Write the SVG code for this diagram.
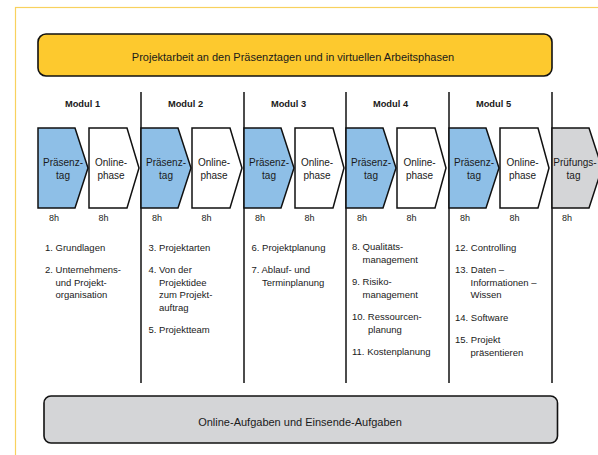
<svg xmlns="http://www.w3.org/2000/svg" width="598" height="455" viewBox="0 0 598 455">
<style>
text{font-family:"Liberation Sans",Arial,sans-serif;fill:#1a1a1a}
.frame{fill:none;stroke:#F8D15E;stroke-width:1.2}
.bar{stroke:#111;stroke-width:1.6}
.sep{stroke:#111;stroke-width:1.5}
.chev{stroke:#111;stroke-width:1.5;stroke-linejoin:miter}
.p{fill:#8EBFE7}
.o{fill:#fff}
.g{fill:#D4D5D7}
.mod{font-size:9.3px;font-weight:bold;text-anchor:middle}
.ct{font-size:10px;text-anchor:middle}
.h{font-size:9px}
.li{font-size:9.5px}
.bt{font-size:11px;text-anchor:middle}
</style>
<rect class="frame" x="15.5" y="7.5" width="700" height="600"/>
<g id="top-bar">
<rect class="bar" x="38" y="34" width="514" height="42" rx="8" fill="#FDC92E"/>
<text class="bt" x="293" y="61">Projektarbeit an den Präsenztagen und in virtuellen Arbeitsphasen</text>
</g>
<g id="connectors">
<line class="sep" x1="141" y1="92" x2="141" y2="383"/>
<line class="sep" x1="244" y1="92" x2="244" y2="383"/>
<line class="sep" x1="346" y1="92" x2="346" y2="383"/>
<line class="sep" x1="449" y1="92" x2="449" y2="383"/>
<line class="sep" x1="552" y1="92" x2="552" y2="383"/>
</g>
<g id="modul1">
<text class="mod" x="82.5" y="107">Modul 1</text>
<path class="chev p" d="M38,128H75L88,168L75,208H38Z"/>
<text class="ct" x="63" y="165.5">Präsenz-</text><text class="ct" x="63" y="178.5">tag</text>
<path class="chev o" d="M89,128H127L139,168L127,208H89Z"/>
<text class="ct" x="111" y="165.5">Online-</text><text class="ct" x="111" y="178.5">phase</text>
<text class="h" x="49" y="221">8h</text><text class="h" x="98.5" y="221">8h</text>
<text class="li" x="45" y="250.5">1. Grundlagen</text>
<text class="li" x="45" y="273">2. Unternehmens-</text>
<text class="li" x="55.5" y="285.5">und Projekt-</text>
<text class="li" x="55.5" y="298">organisation</text>
</g>
<g id="modul2">
<text class="mod" x="185.5" y="107">Modul 2</text>
<path class="chev p" d="M141,128H178L191,168L178,208H141Z"/>
<text class="ct" x="166" y="165.5">Präsenz-</text><text class="ct" x="166" y="178.5">tag</text>
<path class="chev o" d="M192,128H230L242,168L230,208H192Z"/>
<text class="ct" x="214" y="165.5">Online-</text><text class="ct" x="214" y="178.5">phase</text>
<text class="h" x="152" y="221">8h</text><text class="h" x="201.5" y="221">8h</text>
<text class="li" x="148.5" y="250.5">3. Projektarten</text>
<text class="li" x="148.5" y="273">4. Von der</text>
<text class="li" x="159" y="285.5">Projektidee</text>
<text class="li" x="159" y="298">zum Projekt-</text>
<text class="li" x="159" y="310.5">auftrag</text>
<text class="li" x="148.5" y="333">5. Projektteam</text>
</g>
<g id="modul3">
<text class="mod" x="288.5" y="107">Modul 3</text>
<path class="chev p" d="M244,128H281L294,168L281,208H244Z"/>
<text class="ct" x="269" y="165.5">Präsenz-</text><text class="ct" x="269" y="178.5">tag</text>
<path class="chev o" d="M295,128H333L344,168L333,208H295Z"/>
<text class="ct" x="317" y="165.5">Online-</text><text class="ct" x="317" y="178.5">phase</text>
<text class="h" x="255" y="221">8h</text><text class="h" x="304.5" y="221">8h</text>
<text class="li" x="251.5" y="250.5">6. Projektplanung</text>
<text class="li" x="251.5" y="273">7. Ablauf- und</text>
<text class="li" x="262" y="285.5">Terminplanung</text>
</g>
<g id="modul4">
<text class="mod" x="390.5" y="107">Modul 4</text>
<path class="chev p" d="M346,128H383L396,168L383,208H346Z"/>
<text class="ct" x="371" y="165.5">Präsenz-</text><text class="ct" x="371" y="178.5">tag</text>
<path class="chev o" d="M397,128H435L446,168L435,208H397Z"/>
<text class="ct" x="419.5" y="165.5">Online-</text><text class="ct" x="419.5" y="178.5">phase</text>
<text class="h" x="357" y="221">8h</text><text class="h" x="406.5" y="221">8h</text>
<text class="li" x="352" y="250">8. Qualitäts-</text>
<text class="li" x="362.5" y="262.5">management</text>
<text class="li" x="352" y="285">9. Risiko-</text>
<text class="li" x="362.5" y="297.5">management</text>
<text class="li" x="352" y="320">10. Ressourcen-</text>
<text class="li" x="368" y="332.5">planung</text>
<text class="li" x="352" y="355">11. Kostenplanung</text>
</g>
<g id="modul5">
<text class="mod" x="493.5" y="107">Modul 5</text>
<path class="chev p" d="M449,128H486L499,168L486,208H449Z"/>
<text class="ct" x="474" y="165.5">Präsenz-</text><text class="ct" x="474" y="178.5">tag</text>
<path class="chev o" d="M500,128H538L549,168L538,208H500Z"/>
<text class="ct" x="522.5" y="165.5">Online-</text><text class="ct" x="522.5" y="178.5">phase</text>
<text class="h" x="460" y="221">8h</text><text class="h" x="509.5" y="221">8h</text>
<text class="li" x="455" y="250.5">12. Controlling</text>
<text class="li" x="455" y="273">13. Daten –</text>
<text class="li" x="470.5" y="285.5">Informationen –</text>
<text class="li" x="470.5" y="298">Wissen</text>
<text class="li" x="455" y="320.5">14. Software</text>
<text class="li" x="455" y="343">15. Projekt</text>
<text class="li" x="470.5" y="355.5">präsentieren</text>
</g>
<g id="pruefung">
<path class="chev g" d="M552,128H589L602,168L589,208H552Z"/>
<text class="ct" x="575" y="165.5">Prüfungs-</text><text class="ct" x="573.5" y="178.5">tag</text>
<text class="h" x="562" y="221">8h</text>
</g>
<g id="bottom-bar">
<rect class="bar" x="44" y="396" width="513.5" height="47" rx="7" fill="#D4D5D7"/>
<text class="bt" x="300" y="426">Online-Aufgaben und Einsende-Aufgaben</text>
</g>
</svg>
